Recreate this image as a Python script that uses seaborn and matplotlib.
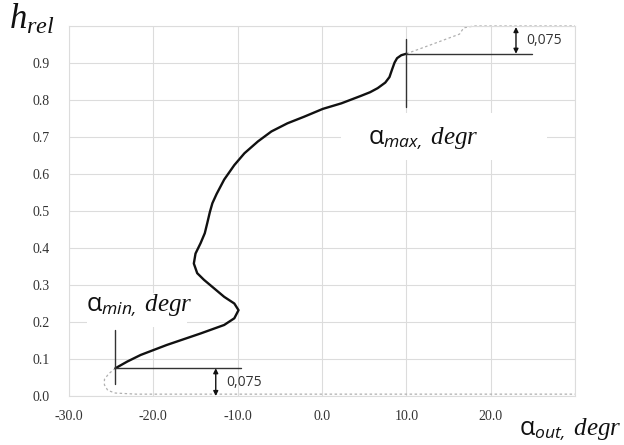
import matplotlib
matplotlib.use("Agg")
import matplotlib.pyplot as plt
from matplotlib.patches import Rectangle
import seaborn as sns
import pandas as pd

# main profile (solid)
alpha_out = [-24.5, -23.1, -21.5, -18.4, -14.4, -11.6, -10.4, -9.9, -10.4, -11.6,
             -12.8, -14.0, -14.8, -15.2, -15.0, -14.4, -13.9, -13.6, -13.3, -13.0,
             -12.5, -11.6, -10.4, -9.2, -7.6, -6.0, -4.1, -2.1, 0.1, 2.3,
             4.6, 5.7, 6.6, 7.5, 8.0, 8.3, 8.6, 8.9, 9.4, 10.0]
h_rel = [0.075, 0.093, 0.111, 0.138, 0.169, 0.192, 0.21, 0.232, 0.25, 0.268,
         0.291, 0.314, 0.332, 0.358, 0.385, 0.413, 0.44, 0.468, 0.497, 0.521,
         0.546, 0.585, 0.624, 0.656, 0.688, 0.715, 0.737, 0.755, 0.776, 0.791,
         0.811, 0.821, 0.832, 0.847, 0.862, 0.882, 0.901, 0.913, 0.921, 0.925]

# dotted extensions near walls
top_x = [10.0, 13.0, 16.3, 16.8, 18.0, 30.0]
top_h = [0.925, 0.95, 0.978, 0.995, 1.0, 1.0]
bot_x = [-24.5, -25.3, -25.8, -25.8, -25.4, -24.5, -22.0, 30.0]
bot_h = [0.075, 0.06, 0.045, 0.03, 0.015, 0.008, 0.005, 0.005]

x_ticks = [-30, -20, -10, 0, 10, 20, 30]
x_labels = ["-30.0", "-20.0", "-10.0", "0.0", "10.0", "20.0", ""]
y_ticks = [0.0, 0.1, 0.2, 0.3, 0.4, 0.5, 0.6, 0.7, 0.8, 0.9, 1.0]
y_labels = ["0.0", "0.1", "0.2", "0.3", "0.4", "0.5", "0.6", "0.7", "0.8", "0.9", ""]

alpha_min, alpha_max = -24.5, 10.0
h_min, h_max = 0.075, 0.925

sns.set_style("whitegrid", {"grid.color": "#dcdcdc", "axes.edgecolor": "#dcdcdc"})
plt.rcParams["font.family"] = ["Liberation Serif", "DejaVu Serif"]
plt.rcParams["mathtext.fontset"] = "custom"
plt.rcParams["mathtext.rm"] = "Open Sans"
plt.rcParams["mathtext.sf"] = "Open Sans:italic"
plt.rcParams["mathtext.it"] = "Liberation Serif:italic"

fig = plt.figure(figsize=(6.24, 4.45), dpi=100)
ax = fig.add_axes([0.1106, 0.1101, 0.8109, 0.8315])

# white patches behind labels (as in the original figure)
ax.add_patch(Rectangle((2.3, 0.638), 24.4, 0.127, facecolor="white",
                       edgecolor="none", zorder=1.5))
ax.add_patch(Rectangle((-27.9, 0.186), 11.9, 0.092, facecolor="white",
                       edgecolor="none", zorder=1.5))

main = pd.DataFrame({"x": alpha_out, "h": h_rel})
sns.lineplot(data=main, x="x", y="h", sort=False, estimator=None, ax=ax,
             color="#111111", linewidth=1.7, zorder=3)
for ln in ax.lines:
    ln.set_solid_joinstyle("round")
    ln.set_solid_capstyle("round")
ax.plot(top_x, top_h, linestyle=(0, (2, 2)), color="#b0b0b0", linewidth=0.9,
        clip_on=False)
ax.plot(bot_x, bot_h, linestyle=(0, (2, 2)), color="#b0b0b0", linewidth=0.9,
        clip_on=False)

# annotation lines
ax.plot([alpha_max, alpha_max], [0.78, 0.965], color="#333333", linewidth=1.0, zorder=3)
ax.plot([alpha_max, 24.9], [h_max, h_max], color="#333333", linewidth=1.0, zorder=3)
ax.plot([alpha_min, alpha_min], [0.032, 0.178], color="#333333", linewidth=1.0, zorder=3)
ax.plot([alpha_min, -9.6], [h_min, h_min], color="#333333", linewidth=1.0, zorder=3)
ax.annotate("", xy=(23.0, 0.997), xytext=(23.0, h_max),
            arrowprops=dict(arrowstyle="<|-|>", color="#111111", lw=1.0,
                            mutation_scale=7, shrinkA=0, shrinkB=0))
ax.annotate("", xy=(-12.6, 0.0), xytext=(-12.6, h_min),
            arrowprops=dict(arrowstyle="<|-|>", color="#111111", lw=1.0,
                            mutation_scale=7, shrinkA=0, shrinkB=0))
ax.text(24.2, 0.962, "0,075", fontsize=10, family="Open Sans", color="#333333",
        va="center", ha="left")
ax.text(-11.4, 0.037, "0,075", fontsize=10, family="Open Sans", color="#333333",
        va="center", ha="left")

ax.text(-28.0, 0.245, r"$\mathrm{\alpha}_{\mathsf{min,}}\ \mathit{degr}$",
        fontsize=18, color="#111111", va="center", ha="left", zorder=4)
ax.text(5.5, 0.695, r"$\mathrm{\alpha}_{\mathsf{max,}}\ \mathit{degr}$",
        fontsize=18, color="#111111", va="center", ha="left", zorder=4)
fig.text(0.014, 0.955, r"$h_{rel}$", fontsize=25, color="#111111",
         va="center", ha="left")
fig.text(0.832, 0.035, r"$\mathrm{\alpha}_{\mathsf{out,}}\ \mathit{degr}$",
         fontsize=18, color="#111111", va="center", ha="left")

ax.set_xlim(-30, 30)
ax.set_ylim(0, 1.0)
ax.set_xticks(x_ticks)
ax.set_xticklabels(x_labels)
ax.set_yticks(y_ticks)
ax.set_yticklabels(y_labels)
ax.tick_params(axis="both", length=0, labelsize=10, labelcolor="#333333")
ax.tick_params(axis="y", pad=14)
ax.tick_params(axis="x", pad=10)
ax.set_xlabel("")
ax.set_ylabel("")
for s in ax.spines.values():
    s.set_color("#dcdcdc")
    s.set_linewidth(0.8)

fig.savefig("out.png", dpi=100)
